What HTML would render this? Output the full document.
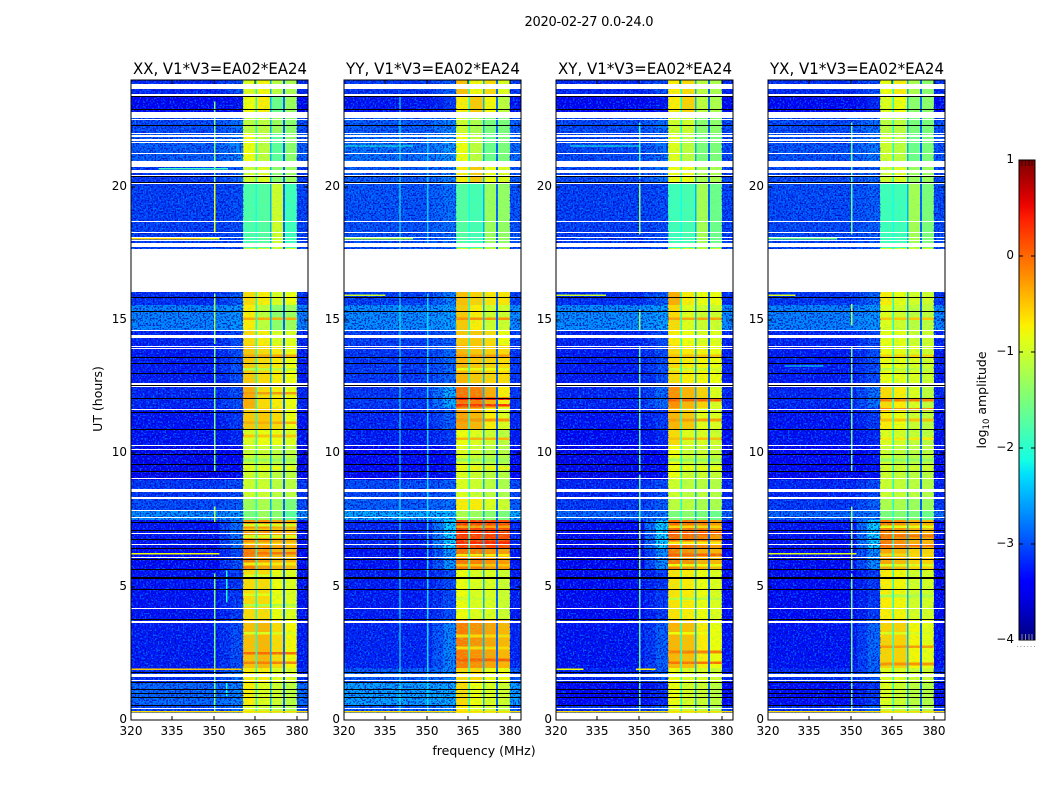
<!DOCTYPE html>
<html>
<head>
<meta charset="utf-8">
<title>2020-02-27 0.0-24.0</title>
<style>
html,body{margin:0;padding:0;background:#fff;width:1050px;height:800px;overflow:hidden}
svg{display:block}
text{font-family:"DejaVu Sans","Liberation Sans",sans-serif;fill:#000}
</style>
</head>
<body>
<svg id="chart" xmlns="http://www.w3.org/2000/svg" width="1050" height="800" viewBox="0 0 1050 800">
  <defs>
    <filter id="speckle-light" x="0" y="0" width="100%" height="100%" color-interpolation-filters="sRGB">
      <feTurbulence type="fractalNoise" baseFrequency="0.6" numOctaves="1" seed="3"/>
      <feColorMatrix type="matrix" values="0 0 0 0 0  0 0 0 0 0.62  0 0 0 0 1  9 0 0 0 -4.7"/>
    </filter>
    <filter id="speckle-dark" x="0" y="0" width="100%" height="100%" color-interpolation-filters="sRGB">
      <feTurbulence type="fractalNoise" baseFrequency="0.6" numOctaves="1" seed="11"/>
      <feColorMatrix type="matrix" values="0 0 0 0 0  0 0 0 0 0  0 0 0 0 0.7  9 0 0 0 -4.5"/>
    </filter>
    <filter id="speckle-band" x="0" y="0" width="100%" height="100%" color-interpolation-filters="sRGB">
      <feTurbulence type="fractalNoise" baseFrequency="0.25 0.7" numOctaves="1" seed="7"/>
      <feColorMatrix type="matrix" values="0 0 0 0 0.45  0 0 0 0 0.95  0 0 0 0 0.45  9 0 0 0 -4.7"/>
    </filter>
    <linearGradient id="jet-gradient" x1="0" y1="1" x2="0" y2="0"></linearGradient>
  </defs>
  <rect x="0" y="0" width="1050" height="800" fill="#fff"/>
  <text x="589" y="26" font-size="13" text-anchor="middle" textLength="129">2020-02-27 0.0-24.0</text>
  <text transform="translate(102,399) rotate(-90)" font-size="12.5" text-anchor="middle">UT (hours)</text>
  <text x="484" y="755" font-size="12.5" text-anchor="middle">frequency (MHz)</text>
  <text transform="translate(986,400) rotate(-90)" font-size="12.5" text-anchor="middle">log<tspan font-size="8.5" dy="3">10</tspan><tspan dy="-3"> amplitude</tspan></text>
  <g id="panels"></g>
  <g id="colorbar"></g>
</svg>
<script>
// ---------- shared axes ----------
const panelTitles = ["XX, V1*V3=EA02*EA24", "YY, V1*V3=EA02*EA24", "XY, V1*V3=EA02*EA24", "YX, V1*V3=EA02*EA24"];
const xTicks = [320, 335, 350, 365, 380];
const yTicks = [0, 5, 10, 15, 20];
const colorbarTicks = [1, 0, -1, -2, -3, -4];
const freqMin = 320, freqMax = 384, hourMin = 0, hourMax = 24, levelMin = -4, levelMax = 1;

// ---------- time bands, top to bottom (UT hours) ----------
const bandEdges = [24,23.36,22.8,22.01,20.74,20.18,17.7,16.05,15.56,14.63,14.06,12.56,11.7,10.88,10.31,9,8.36,7.88,7.5,6.45,5.63,3.75,1.95,1.43,0.56,0];

// ---------- frequency structure (MHz) ----------
const subbandStarts = [360.5, 365.6, 370.8, 375.6];
const subbandEnds = [365, 370.2, 375, 380];
const notchStarts = [365, 370.2, 375];
const notchEnds = [365.6, 370.8, 375.6];
const notchLevels = [-2.1, -2.5, -2.9];
const shoulderInner = 352;
const shoulderStart = 356;

// ---------- off-band level per time band (log10 amplitude) ----------
const lowXX = [-3.2,-3.45,-3.0,-2.9,-3.1,-3.05,-3,-3.15,-2.7,-3.2,-3.25,-3.2,-3.3,-3.3,-3.5,-3.1,-3.0,-2.65,-3.3,-3.35,-3.3,-3.25,-3.15,-2.85,-3.0];
const lowYY = [-3.1,-3.3,-2.9,-2.8,-2.9,-2.95,-3,-3.05,-2.65,-3.05,-3.1,-3.1,-3.2,-3.25,-3.45,-3,-2.9,-2.5,-3.2,-3.3,-3.25,-3.2,-2.9,-2.55,-2.9];
const lowXY = [-3.2,-3.45,-3.0,-3.0,-3.0,-3.05,-3,-3.15,-2.65,-3.2,-3.25,-3.2,-3.3,-3.35,-3.5,-3.2,-3.1,-2.85,-3.35,-3.4,-3.35,-3.3,-3.2,-3.4,-3.1];
const lowYX = [-3.15,-3.4,-3,-2.95,-3,-3,-3,-3.1,-2.7,-3.2,-3.25,-3.2,-3.3,-3.3,-3.45,-3.2,-3.1,-2.85,-3.3,-3.35,-3.35,-3.3,-3.15,-3.35,-3.1];

// ---------- shoulder just below the loud band, per time band ----------
const shoulderXX = [-3,-3.3,-2.8,-2.7,-2.9,-3,-3,-2.9,-2.6,-3,-3,-3,-3.1,-3.2,-3.4,-3,-2.9,-2.6,-2.8,-3,-3.1,-3,-2.8,-2.7,-2.8];
const shoulderYY = [-2.9,-3.1,-2.7,-2.6,-2.7,-2.8,-3,-2.7,-2.55,-2.9,-2.85,-2.5,-2.9,-3.1,-3.3,-2.9,-2.8,-2.4,-2.3,-2.6,-3,-2.7,-2.7,-2.5,-2.7];
const shoulderXY = [-3,-3.3,-2.8,-2.8,-2.8,-3,-3,-2.9,-2.55,-3,-3,-2.85,-3.1,-3.2,-3.4,-3,-2.9,-2.75,-2.3,-2.65,-3.1,-2.9,-2.9,-3.2,-2.9];
const shoulderYX = [-3,-3.2,-2.8,-2.75,-2.85,-2.9,-3,-2.85,-2.6,-3,-3,-2.8,-3.1,-3.2,-3.3,-3,-2.9,-2.75,-2.3,-2.65,-3.1,-2.85,-2.9,-3.1,-2.9];

// ---------- four loud sub-bands, per time band ----------
const rfiXX = [[-.9,-.75,-1.1,-1.2],[-.8,-.7,-1.6,-1.3],[-1.1,-1.1,-1.3,-1.4],[-.8,-1.1,-1.7,-1.4],[-1,-.9,-1.4,-1.3],[-1.8,-1.75,-1,-1.9],[-1,-1,-1,-1],[-.6,-.7,-.9,-.8],[-.7,-1.1,-1.4,-1.3],[-.6,-.7,-.9,-.9],[-.5,-.6,-.7,-.8],[-.35,-.6,-.7,-.8],[-.5,-.5,-.6,-.8],[-.9,-.8,-.8,-.9],[-1,-1,-1.1,-1.1],[-1,-1,-1.1,-1.1],[-1.3,-1.2,-1.3,-1.5],[-1.5,-1.3,-1.4,-1.7],[-.2,-.2,-.3,-.35],[-.1,-.25,-.4,-.4],[-.6,-.6,-.8,-.9],[-.45,-.4,-.6,-.75],[-.7,-.7,-.9,-.9],[-.7,-.9,-1,-1.1],[-.9,-1,-1.1,-1.2]];
const rfiYY = [[-.45,-.75,-.6,-.9],[-.7,-.5,-.75,-1.1],[-1,-1.2,-1.5,-1.5],[-.8,-1.1,-1.6,-1.5],[-.7,-.5,-.8,-.9],[-1.75,-1.85,-1.3,-1.35],[-1,-1,-1,-1],[-.45,-.55,-.65,-.65],[-.5,-.7,-1,-1],[-.5,-.5,-.6,-.8],[-.4,-.5,-.55,-.6],[-.05,-.1,-.35,-.7],[-.3,-.4,-.7,-.9],[-.8,-.9,-1,-1.1],[-.9,-1,-1.1,-1.15],[-.9,-1,-1.1,-1.2],[-.7,-.7,-.9,-1],[-1.2,-1.3,-1.4,-1.5],[.25,.2,.2,.15],[-.05,-.1,-.2,-.25],[-.8,-.9,-.9,-1],[-.1,-.2,-.3,-.4],[-.6,-.6,-.8,-.8],[-.6,-.8,-.9,-1],[-.7,-.9,-1,-1.1]];
const rfiXY = [[-.7,-.6,-1.1,-1.2],[-.7,-.55,-1.1,-1.2],[-1,-1,-1.4,-1.4],[-.9,-1.1,-1.5,-1.5],[-.8,-.8,-1.2,-1.2],[-1.9,-1.85,-1.25,-1.6],[-1,-1,-1,-1],[-.35,-.7,-.8,-.8],[-.6,-.9,-1,-1],[-.7,-.8,-.9,-.9],[-.6,-.7,-.75,-.8],[-.2,-.4,-.55,-.9],[-.4,-.5,-.85,-.9],[-.6,-.9,-.9,-1],[-.8,-1,-1,-1.05],[-1,-1.1,-1.1,-1.15],[-1.1,-1.1,-1.2,-1.2],[-1.5,-1.4,-1.5,-1.6],[0,-.05,-.1,-.25],[-.1,-.2,-.35,-.4],[-.65,-.7,-.8,-.9],[-.4,-.45,-.7,-.8],[-.8,-.9,-.9,-1],[-.8,-.95,-1,-1.1],[-.9,-1,-1.1,-1.2]];
const rfiYX = [[-.8,-.7,-1.2,-1.4],[-.9,-.8,-1.4,-1.4],[-1.1,-1.1,-1.5,-1.5],[-1,-1.1,-1.6,-1.5],[-1,-.9,-1.3,-1.3],[-1.9,-1.9,-1.25,-1.5],[-1,-1,-1,-1],[-.7,-.85,-.95,-1],[-.9,-1,-1.1,-1.1],[-.85,-.85,-1,-1],[-.8,-.85,-.9,-1],[-.6,-.7,-.9,-1.1],[-.7,-.8,-1,-1.1],[-.9,-.95,-1.05,-1.1],[-1,-1.05,-1.1,-1.1],[-1,-1.05,-1.1,-1.15],[-1.2,-1.2,-1.3,-1.3],[-1.5,-1.45,-1.5,-1.6],[-.1,-.2,-.35,-.4],[-.3,-.4,-.55,-.55],[-.7,-.75,-.95,-.95],[-.55,-.55,-.75,-.85],[-.9,-.9,-1,-1],[-.9,-1,-1.1,-1.15],[-1,-1.1,-1.2,-1.2]];

// ---------- vertical spurs: [MHz, top hour, bottom hour, level] ----------
const spursXX = [[350,20.1,18.3,-0.85],[350,23.2,20.1,-1.5],[350,16,14.1,-1.3],[350,14,9.3,-1.5],[350,8,7.4,-1.2],[350,5.5,0.3,-1.5],[354.4,5.6,4.4,-2.1],[354.4,1.4,0.9,-2.1]];
const spursYY = [[340,23.4,0.2,-2.1],[350,22,17.8,-2.4],[350,16,0.3,-2.3]];
const spursXY = [[350,22.4,20.3,-1.9],[350,20.2,18.2,-1.3],[350,15.4,14.6,-1.3],[350,14,9.3,-1.7],[350,9.2,0.3,-1.7],[350,7.4,5.6,-1.3]];
const spursYX = [[350,22.4,18.2,-1.6],[350,15.6,14.8,-1.2],[350,14,9.3,-1.5],[350,8,5.6,-1.3],[350,5.5,0.3,-1.5]];

// ---------- horizontal interference lines: [hour, start MHz, end MHz, level] ----------
const linesXX = [[18.07,320,345,-0.6],[18.07,345,352,-0.8],[1.93,320,360,-0.5],[0.33,320,384,-0.6],[6.26,320,352,-0.8],[20.7,330,355,-1.9]];
const linesYY = [[18.07,320,345,-1.2],[0.33,320,384,-0.6],[15.95,320,335,-1.0],[21.55,320,345,-2.1]];
const linesXY = [[1.93,320,330,-0.8],[1.93,349,356,-0.7],[0.33,320,384,-0.6],[15.95,320,338,-1.0],[21.55,325,350,-2.1]];
const linesYX = [[18.07,320,345,-1.6],[0.33,320,384,-0.6],[15.95,320,330,-0.9],[6.26,320,352,-0.9],[13.3,326,340,-2.2]];

// ---------- fine stripes across the loud bands: [hour, level] ----------
const stripesXX = [[15.1,-0.35],[13.7,-0.3],[13.2,-1.1],[12.3,-0.25],[11.2,-0.35],[10.7,-0.5],[9.8,-1.3],[9.5,-0.8],[7.35,-0.9],[7.18,-0.5],[6.93,-0.9],[6.66,-0.6],[6.3,-0.05],[5.9,-0.7],[5.45,-0.9],[4.75,-0.9],[4.35,-1.2],[3.3,-0.9],[2.2,-0.1],[2.55,0]];
const stripesYY = [[15.1,-0.2],[13.7,-0.25],[13.2,-0.8],[11.3,-0.2],[10.6,-0.4],[9.8,-1.3],[9.5,-0.75],[7.3,-0.3],[7.05,0.35],[6.7,0.35],[6.22,-0.7],[5.85,-0.5],[4.6,-1],[3.2,-0.6],[2.75,-0.6],[2.3,0.05],[12.1,0.45],[11.85,0.3]];
const stripesXY = [[15.1,-0.3],[13.7,-0.45],[13.2,-1],[11.3,-0.25],[10.6,-0.45],[9.8,-1.3],[9.5,-0.8],[7.3,-0.6],[7.05,0.2],[6.7,-0.7],[6.25,0.05],[5.85,-0.8],[4.6,-1.1],[3.3,-0.8],[2.6,-0.1],[2.2,-0.05],[12.05,0.05]];
const stripesYX = [[15.1,-0.5],[13.7,-0.55],[13.2,-1.1],[11.3,-0.45],[10.6,-0.7],[9.8,-1.35],[9.5,-0.95],[7.3,-0.8],[6.95,-0.05],[6.6,0.05],[6.25,-0.6],[5.85,-0.9],[4.7,-1.2],[3.3,-0.9],[2.8,-0.25],[2.15,-0.2],[12.05,-0.1],[11.7,-0.15]];

// ---------- flagged (blanked) time ranges, hours [top, bottom] ----------
const whiteGaps = [[23.84,23.66],[23.46,23.4],[22.81,22.62],[22.6,22.56],[22.54,22.5],[22,21.96],[21.92,21.88],[21.77,21.73],[21.66,21.62],[21.27,21.23],[20.98,20.94],[20.91,20.75],[20.62,20.52],[20.44,20.4],[20.14,20.1],[18.73,18.69],[18.31,18.25],[18.1,18.06],[18.01,17.98],[17.9,17.74],[17.66,16.05],[14.61,14.57],[14.44,14.31],[14.04,14],[13.94,13.9],[12.62,12.5],[11.67,11.63],[10.3,10.26],[10.15,10.11],[9.06,9.02],[8.66,8.56],[8.35,8.3],[7.86,7.82],[7.6,7.56],[7,6.96],[6.59,6.55],[6.1,6.06],[4.19,4.15],[3.71,3.65],[1.73,1.62],[1.5,1.46],[0.46,0.42],[0.25,0]];
const blackFlags = [[23.39,23.35],[22.92,22.88],[22.32,22.28],[20.41,20.37],[20.19,20.15],[15.87,15.83],[15.35,15.31],[13.6,13.56],[13.38,13.34],[13,12.96],[12.56,12.53],[12.06,12.02],[11.54,11.5],[10.91,10.87],[9.96,9.92],[9.59,9.55],[9.35,9.31],[7.44,7.4],[7.12,7.08],[6.78,6.74],[6.44,6.4],[6.03,5.99],[5.66,5.62],[5.35,5.28],[4.9,4.86],[3.78,3.74],[1.81,1.77],[1.44,1.4],[1.16,1.12],[1.02,0.98],[0.85,0.81],[0.56,0.52]];

// ---------- per-panel bundles ----------
const panelLow = [lowXX, lowYY, lowXY, lowYX];
const panelShoulder = [shoulderXX, shoulderYY, shoulderXY, shoulderYX];
const panelRfi = [rfiXX, rfiYY, rfiXY, rfiYX];
const panelSpurs = [spursXX, spursYY, spursXY, spursYX];
const panelLines = [linesXX, linesYY, linesXY, linesYX];
const panelStripes = [stripesXX, stripesYY, stripesXY, stripesYX];
const panelKeys = ["xx", "yy", "xy", "yx"];
const panelLefts = [131, 344, 556, 768];

const NS = "http://www.w3.org/2000/svg";
const plotW = 177, plotTop = 80, plotH = 640;
const cbX = 1019, cbW = 16, cbTop = 160, cbH = 480;

function jet(t) {
  t = Math.max(0, Math.min(1, t));
  const seg = (pts) => {
    for (let i = 1; i < pts.length; i++) {
      if (t <= pts[i][0]) {
        const a = pts[i - 1], b = pts[i];
        return a[1] + (b[1] - a[1]) * (t - a[0]) / (b[0] - a[0]);
      }
    }
    return pts[pts.length - 1][1];
  };
  const r = seg([[0,0],[0.35,0],[0.66,1],[0.89,1],[1,0.5]]);
  const g = seg([[0,0],[0.125,0],[0.375,1],[0.64,1],[0.91,0],[1,0]]);
  const b = seg([[0,0.5],[0.11,1],[0.34,1],[0.65,0],[1,0]]);
  return "rgb(" + Math.round(r * 255) + "," + Math.round(g * 255) + "," + Math.round(b * 255) + ")";
}
const levelColor = (v) => jet((v - levelMin) / (levelMax - levelMin));
const yOf = (h) => plotTop + plotH * (hourMax - h) / (hourMax - hourMin);
const cbY = (v) => cbTop + cbH * (levelMax - v) / (levelMax - levelMin);

function node(parent, tag, props) {
  const el = document.createElementNS(NS, tag);
  for (const k in props) el.setAttribute(k, props[k]);
  parent.appendChild(el);
  return el;
}

const panelsRoot = document.getElementById("panels");

panelTitles.forEach(function (title, p) {
  const left = panelLefts[p];
  const key = panelKeys[p];
  const xOf = (f) => left + plotW * (f - freqMin) / (freqMax - freqMin);
  const g = node(panelsRoot, "g", {});
  
  

  const cells = node(g, "g", {"shape-rendering": "crispEdges"});
  
  

  const cellRect = (f0, f1, h0, h1, v) => {
    const x0 = xOf(f0), x1 = xOf(f1), y0 = yOf(h0), y1 = yOf(h1);
    return node(cells, "rect", {x: x0, y: y0, width: Math.max(x1 - x0, 0), height: Math.max(y1 - y0, 0), fill: levelColor(v)});
  };

  for (let b = 0; b < bandEdges.length - 1; b++) {
    const h0 = bandEdges[b], h1 = bandEdges[b + 1];
    const low = panelLow[p][b];
    const a = cellRect(freqMin, shoulderInner, h0, h1, low);
    
    
    const m = cellRect(shoulderInner, shoulderStart, h0, h1, (low + panelShoulder[p][b]) / 2);
    
    
    const s = cellRect(shoulderStart, subbandStarts[0], h0, h1, panelShoulder[p][b]);
    
    
    subbandStarts.forEach(function (start, i) {
      const c = cellRect(start, subbandEnds[i], h0, h1, panelRfi[p][b][i]);
      
      
    });
    notchStarts.forEach(function (start, i) {
      const c = cellRect(start, notchEnds[i], h0, h1, notchLevels[i]);
      
      
    });
    const r = cellRect(subbandEnds[3], freqMax, h0, h1, low);
    
    
  }

  panelStripes[p].forEach(function (st) {
    subbandStarts.forEach(function (start, i) {
      const el = node(g, "rect", {x: xOf(start), y: yOf(st[0]), width: xOf(subbandEnds[i]) - xOf(start), height: 2.6, fill: levelColor(st[1]), "shape-rendering": "crispEdges"});
      
      
    });
  });

  // speckle texture over the quiet parts of the band
  [["speckle-light", 0.55], ["speckle-dark", 0.7]].forEach(function (sp) {
    [[freqMin, subbandStarts[0]], [subbandEnds[3], freqMax]].forEach(function (range) {
      const rc = node(g, "rect", {x: xOf(range[0]), y: plotTop, width: xOf(range[1]) - xOf(range[0]), height: plotH, filter: "url(#" + sp[0] + ")", opacity: sp[1]});
      
      
    });
  });
  // lighter mottling across the loud sub-bands
  subbandStarts.forEach(function (start, i) {
    const rc = node(g, "rect", {x: xOf(start), y: plotTop, width: xOf(subbandEnds[i]) - xOf(start), height: plotH, filter: "url(#speckle-band)", opacity: 0.28});
    
    
  });

  panelSpurs[p].forEach(function (sp) {
    const el = node(g, "rect", {x: xOf(sp[0]), y: yOf(sp[1]), width: 1.4, height: Math.max(yOf(sp[2]) - yOf(sp[1]), 0), fill: levelColor(sp[3]), "shape-rendering": "crispEdges"});
    
    
  });

  panelLines[p].forEach(function (ln) {
    const el = node(g, "rect", {x: xOf(ln[1]), y: yOf(ln[0]), width: xOf(ln[2]) - xOf(ln[1]), height: 1.3, fill: levelColor(ln[3]), "shape-rendering": "crispEdges"});
    
    
  });

  whiteGaps.forEach(function (gap) {
    const y0 = Math.round(yOf(gap[0]));
    const el = node(g, "rect", {x: left, y: y0, width: plotW, height: Math.max(Math.round(yOf(gap[1])) - y0, 1), fill: "#fff", "shape-rendering": "crispEdges"});
    
    
  });
  blackFlags.forEach(function (flag) {
    const y0 = Math.round(yOf(flag[0]));
    const el = node(g, "rect", {x: left, y: y0, width: plotW, height: Math.max(Math.round(yOf(flag[1])) - y0, 1), fill: "#000", "shape-rendering": "crispEdges"});
    
    
  });

  const frame = node(g, "rect", {x: left, y: plotTop, width: plotW, height: plotH, fill: "none", stroke: "#000", "stroke-width": 1, "shape-rendering": "crispEdges"});
  
  

  xTicks.forEach(function (t) {
    const x = Math.round(xOf(t));
    const tickB = node(g, "line", {x1: x, x2: x, y1: plotTop + plotH, y2: plotTop + plotH - 4, stroke: "#000", "shape-rendering": "crispEdges"});
    
    
    const tickT = node(g, "line", {x1: x, x2: x, y1: plotTop, y2: plotTop + 4, stroke: "#000", "shape-rendering": "crispEdges"});
    
    
    const lab = node(g, "text", {x: x, y: 735, "font-size": 12, "text-anchor": "middle"});
    lab.textContent = t;
    
    
  });
  yTicks.forEach(function (t) {
    const y = Math.round(yOf(t));
    const tickL = node(g, "line", {x1: left, x2: left + 4, y1: y, y2: y, stroke: "#000", "shape-rendering": "crispEdges"});
    
    
    const tickR = node(g, "line", {x1: left + plotW, x2: left + plotW - 4, y1: y, y2: y, stroke: "#000", "shape-rendering": "crispEdges"});
    
    
    const lab = node(g, "text", {x: left - 4, y: y + 3, "font-size": 12, "text-anchor": "end"});
    lab.textContent = t;
    
    
  });

  const ttl = node(g, "text", {x: left + plotW / 2 + 0.5, y: 74, "font-size": 16, "text-anchor": "middle", textLength: 174, lengthAdjust: "spacingAndGlyphs"});
  ttl.textContent = title;
  
  
});

// ---------- colorbar ----------
const cb = document.getElementById("colorbar");
const grad = document.getElementById("jet-gradient");
for (let i = 0; i <= 32; i++) {
  node(grad, "stop", {offset: (i / 32 * 100) + "%", "stop-color": jet(i / 32)});
}
const cbBar = node(cb, "rect", {x: cbX, y: cbTop, width: cbW, height: cbH, fill: "url(#jet-gradient)", stroke: "#000", "stroke-width": 1, "shape-rendering": "crispEdges"});



colorbarTicks.forEach(function (t) {
  const y = Math.round(cbY(t));
  const lab = node(cb, "text", {x: cbX - 5, y: y + 3, "font-size": 12, "text-anchor": "end"});
  lab.textContent = t < 0 ? "\u2212" + Math.abs(t) : String(t);
  
  
  if (t !== colorbarTicks[0] && t !== colorbarTicks[colorbarTicks.length - 1]) {
    const a = node(cb, "line", {x1: cbX, x2: cbX + 4, y1: y, y2: y, stroke: "#000", "shape-rendering": "crispEdges"});
    
    
    const c = node(cb, "line", {x1: cbX + cbW, x2: cbX + cbW - 4, y1: y, y2: y, stroke: "#000", "shape-rendering": "crispEdges"});
    
    
  }
});
[3, 6.5, 10, 13].forEach(function (dx) {
  const top = node(cb, "line", {x1: cbX + dx, x2: cbX + dx, y1: cbTop, y2: cbTop + 6, stroke: "#000", "stroke-opacity": 0.6, "shape-rendering": "crispEdges"});
  
  
  const bot = node(cb, "line", {x1: cbX + dx, x2: cbX + dx, y1: cbTop + cbH, y2: cbTop + cbH - 6, stroke: "#888", "shape-rendering": "crispEdges"});
  
  
});
const dots = node(cb, "line", {x1: 1017, x2: 1035, y1: 646.5, y2: 646.5, stroke: "#999", "stroke-width": 1, "stroke-dasharray": "1 2.4"});


</script>
</body>
</html>
